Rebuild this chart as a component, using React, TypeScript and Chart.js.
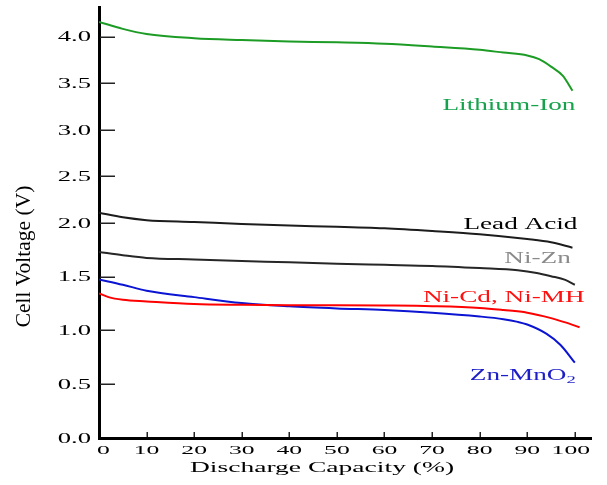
import { useEffect, useRef } from "react";
import { Chart, registerables, LinearScale } from "chart.js";

// ---- data -------------------------------------------------------------
const capacityLiIon = [0, 5, 10, 20, 30, 40, 50, 60, 70, 80, 85, 90, 92.5, 95, 97.5, 99.5];
const voltsLiIon = [4.16, 4.085, 4.03, 3.985, 3.965, 3.95, 3.94, 3.925, 3.895, 3.86, 3.83, 3.8, 3.76, 3.68, 3.58, 3.42];

const capacityLeadAcid = [0, 5, 10, 20, 30, 40, 50, 60, 70, 80, 90, 95, 99.5];
const voltsLeadAcid = [2.11, 2.06, 2.03, 2.01, 1.99, 1.975, 1.965, 1.95, 1.925, 1.895, 1.85, 1.82, 1.77];

const capacityNiZn = [0, 5, 10, 20, 30, 40, 50, 60, 70, 80, 88, 92, 95, 98, 100];
const voltsNiZn = [1.73, 1.7, 1.675, 1.66, 1.645, 1.635, 1.62, 1.61, 1.6, 1.58, 1.56, 1.535, 1.505, 1.47, 1.425];

const capacityNiCd = [0, 2, 5, 10, 20, 30, 40, 50, 60, 70, 80, 85, 90, 95, 98, 101];
const voltsNiCd = [1.345, 1.31, 1.285, 1.27, 1.245, 1.238, 1.235, 1.235, 1.232, 1.226, 1.21, 1.19, 1.165, 1.115, 1.075, 1.03];

const capacityZnMn = [0, 5, 10, 20, 30, 40, 50, 60, 70, 80, 85, 88, 90, 94, 97, 100];
const voltsZnMn = [1.475, 1.425, 1.37, 1.31, 1.255, 1.225, 1.205, 1.19, 1.165, 1.13, 1.105, 1.08, 1.055, 0.97, 0.865, 0.7];

const voltTicks = [0, 0.5, 1, 1.5, 2, 2.5, 3, 3.5, 4];
const voltTickLabels = ["0.0", "0.5", "1.0", "1.5", "2.0", "2.5", "3.0", "3.5", "4.0"];
const capacityTicks = [0, 10, 20, 30, 40, 50, 60, 70, 80, 90, 100];
const capacityTickLabels = ["0", "10", "20", "30", "40", "50", "60", "70", "80", "90", "100"];

const xTitle = "Discharge Capacity (%)";
const yTitle = "Cell Voltage (V)";

// ---- styling ------------------------------------------------------------
const SERIF = '"Liberation Serif", "Times New Roman", serif';

type Series = {
  name: string;
  sub?: string;
  capacity: number[];
  volts: number[];
  line: string;
  text: string;
  dx: number; // label right edge, relative to the series' last point
  dy: number; // label baseline, relative to the series' last point
};

const series: Series[] = [
  { name: "Lithium-Ion", capacity: capacityLiIon, volts: voltsLiIon, line: "#1c9c24", text: "#16a24c", dx: 3, dy: 19 },
  { name: "Lead Acid", capacity: capacityLeadAcid, volts: voltsLeadAcid, line: "#1c1c1c", text: "#000000", dx: 5, dy: -19 },
  { name: "Ni-Zn", capacity: capacityNiZn, volts: voltsNiZn, line: "#262626", text: "#8a8a8a", dx: -4, dy: -22 },
  { name: "Ni-Cd, Ni-MH", capacity: capacityNiCd, volts: voltsNiCd, line: "#ff0000", text: "#ff1010", dx: 5, dy: -25 },
  { name: "Zn-MnO", sub: "2", capacity: capacityZnMn, volts: voltsZnMn, line: "#0a14d2", text: "#1e1ec8", dx: 1, dy: 17 },
];

// Voltage axis made of two linear segments joined at 2.0 V.
const V_SPLIT = 2.0;
const V_SPLIT_FRACTION = 0.499;

class SplitLinearScale extends LinearScale {
  static id = "splitLinear";
  static defaults = LinearScale.defaults;

  getPixelForValue(value: number) {
    if (value === null || value === undefined || isNaN(value)) return NaN;
    const { min, max, top, bottom } = this as any;
    const splitPx = bottom - (bottom - top) * V_SPLIT_FRACTION;
    if (value <= V_SPLIT) {
      return bottom - ((value - min) / (V_SPLIT - min)) * (bottom - splitPx);
    }
    return splitPx - ((value - V_SPLIT) / (max - V_SPLIT)) * (splitPx - top);
  }

  getValueForPixel(pixel: number) {
    const { min, max, top, bottom } = this as any;
    const splitPx = bottom - (bottom - top) * V_SPLIT_FRACTION;
    if (pixel >= splitPx) {
      return min + ((bottom - pixel) / (bottom - splitPx)) * (V_SPLIT - min);
    }
    return V_SPLIT + ((splitPx - pixel) / (splitPx - top)) * (max - V_SPLIT);
  }
}

Chart.register(...registerables, SplitLinearScale);

function stretchedText(
  ctx: CanvasRenderingContext2D,
  text: string,
  x: number,
  y: number,
  align: "left" | "center" | "right",
  sx: number
) {
  const w = ctx.measureText(text).width * sx;
  let left = x;
  if (align === "right") left = x - w;
  else if (align === "center") left = x - w / 2;
  ctx.save();
  ctx.translate(left, y);
  ctx.scale(sx, 1);
  ctx.textAlign = "left";
  ctx.fillText(text, 0, 0);
  ctx.restore();
  return w;
}

const axisDecor = {
  id: "axisDecor",
  beforeDatasetsDraw(chart: any) {
    const { ctx, chartArea, scales } = chart;
    const xs = scales.x;
    const ys = scales.y;
    ctx.save();
    ctx.strokeStyle = "#222";
    ctx.lineWidth = 1.5;
    // voltage ticks point into the plot
    for (const v of voltTicks) {
      if (v === 0) continue;
      const py = Math.round(ys.getPixelForValue(v)) + 0.25;
      ctx.beginPath();
      ctx.moveTo(chartArea.left + 1, py);
      ctx.lineTo(chartArea.left + 16, py);
      ctx.stroke();
    }
    // capacity ticks point up from the axis
    for (const c of capacityTicks) {
      if (c === 0) continue;
      const px = Math.round(xs.getPixelForValue(c)) + 0.25;
      ctx.beginPath();
      ctx.moveTo(px, chartArea.bottom - 1);
      ctx.lineTo(px, chartArea.bottom - 6);
      ctx.stroke();
    }
    ctx.restore();
  },
  afterDraw(chart: any) {
    const { ctx, chartArea, scales } = chart;
    const xs = scales.x;
    const ys = scales.y;
    ctx.save();
    ctx.fillStyle = "#000";
    ctx.textBaseline = "alphabetic";

    // voltage tick labels
    ctx.font = `14px ${SERIF}`;
    voltTicks.forEach((v, i) => {
      const py = ys.getPixelForValue(v);
      stretchedText(ctx, voltTickLabels[i], chartArea.left - 8, py + 4.7, "right", 1.9);
    });

    // capacity tick labels
    ctx.font = `12.5px ${SERIF}`;
    capacityTicks.forEach((c, i) => {
      const px = xs.getPixelForValue(c);
      const sx = 2.05;
      const w = ctx.measureText(capacityTickLabels[i]).width * sx;
      let left = px - w / 2;
      left = Math.max(left, chartArea.left - 2);
      left = Math.min(left, chartArea.right - 1 - w);
      stretchedText(ctx, capacityTickLabels[i], left, chartArea.bottom + 16, "left", sx);
    });

    // axis titles
    ctx.font = `14.5px ${SERIF}`;
    stretchedText(ctx, xTitle, chartArea.left + 223, chartArea.bottom + 34, "center", 1.9);

    ctx.save();
    ctx.font = `21.5px ${SERIF}`;
    ctx.translate(30, (chartArea.top + chartArea.bottom) / 2 + 34);
    ctx.rotate(-Math.PI / 2);
    ctx.textAlign = "center";
    ctx.fillText(yTitle, 0, 0);
    ctx.restore();

    // series labels beside each curve's end
    series.forEach((s) => {
      const n = s.capacity.length - 1;
      const ex = xs.getPixelForValue(s.capacity[n]);
      const ey = ys.getPixelForValue(s.volts[n]);
      const right = ex + s.dx;
      const base = ey + s.dy;
      const sx = 1.7;
      ctx.fillStyle = s.text;
      ctx.font = `16px ${SERIF}`;
      const mainW = ctx.measureText(s.name).width * sx;
      let subW = 0;
      if (s.sub) {
        ctx.font = `11px ${SERIF}`;
        subW = ctx.measureText(s.sub).width * sx;
      }
      const left = right - mainW - subW;
      ctx.font = `16px ${SERIF}`;
      stretchedText(ctx, s.name, left, base, "left", sx);
      if (s.sub) {
        ctx.font = `11px ${SERIF}`;
        stretchedText(ctx, s.sub, left + mainW, base + 3, "left", sx);
      }
    });
    ctx.restore();
  },
};

export default function App() {
  const ref = useRef<HTMLCanvasElement>(null);

  useEffect(() => {
    const canvas = ref.current;
    if (!canvas) return;
    const chart = new Chart(canvas, {
      type: "line",
      data: {
        datasets: series.map((s) => ({
          label: s.name + (s.sub ?? ""),
          data: s.capacity.map((x, i) => ({ x, y: s.volts[i] })),
          borderColor: s.line,
          backgroundColor: s.line,
          borderWidth: 2,
          pointRadius: 0,
          cubicInterpolationMode: "monotone" as const,
          fill: false,
        })),
      },
      options: {
        animation: false,
        responsive: false,
        devicePixelRatio: 1,
        events: [],
        layout: { padding: { top: 7, right: 16, left: 0, bottom: 0 } },
        plugins: { legend: { display: false }, tooltip: { enabled: false } },
        scales: {
          x: {
            type: "linear",
            position: "bottom",
            min: 0,
            max: 103.4,
            grid: { display: false },
            border: { display: true, color: "#000", width: 3 },
            ticks: { display: false },
            afterFit: (s: any) => {
              s.height = 47;
            },
          },
          y: {
            type: "splitLinear" as any,
            position: "left",
            min: 0,
            max: 4.32,
            grid: { display: false },
            border: { display: true, color: "#000", width: 3 },
            ticks: { display: false },
            afterFit: (s: any) => {
              s.width = 99;
            },
          },
        },
      } as any,
      plugins: [axisDecor],
    });
    return () => chart.destroy();
  }, []);

  return (
    <div style={{ position: "absolute", left: 0, top: 0, width: 607, height: 485, background: "#fff" }}>
      <canvas ref={ref} width={607} height={485} style={{ display: "block" }} />
    </div>
  );
}
